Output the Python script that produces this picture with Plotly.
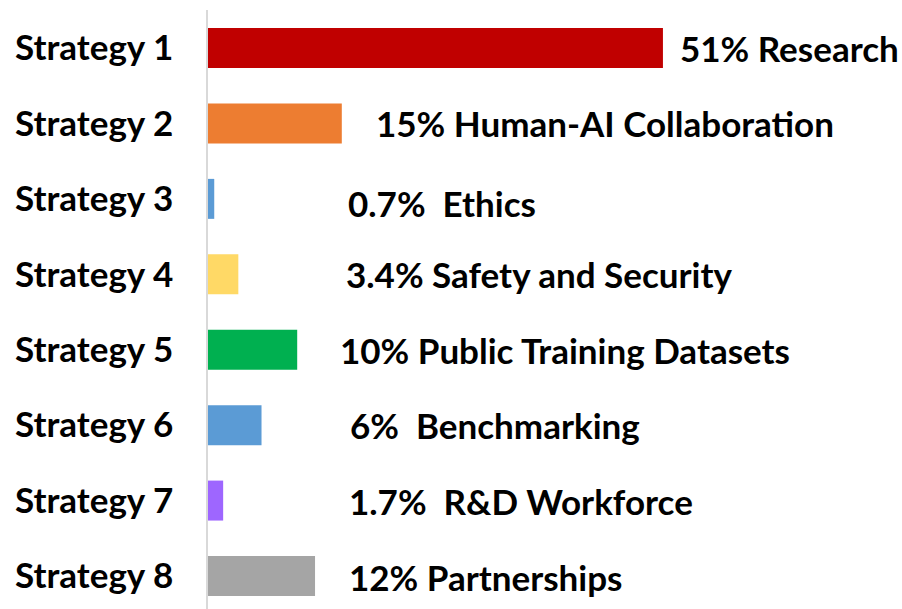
import plotly.graph_objects as go

categories = ["Strategy 1", "Strategy 2", "Strategy 3", "Strategy 4",
              "Strategy 5", "Strategy 6", "Strategy 7", "Strategy 8"]
values = [51, 15, 0.7, 3.4, 10, 6, 1.7, 12]
labels = ["51% Research", "15% Human-AI Collaboration", "0.7%  Ethics",
          "3.4% Safety and Security", "10% Public Training Datasets",
          "6%  Benchmarking", "1.7%  R&D Workforce", "12% Partnerships"]
colors = ["#C00000", "#ED7D31", "#5B9BD5", "#FFD966",
          "#00B050", "#5B9BD5", "#9E66FF", "#A5A5A5"]

# label x positions (data units) and small vertical nudges (px)
label_x = [52.7, 18.6, 15.5, 15.2, 14.6, 15.7, 15.6, 15.6]
label_dy = [0, 0, -4, 0, 0, 0, 0, -1]

FONT = "Lato"
FS = 35

idx = list(range(len(categories)))
fig = go.Figure(go.Bar(
    x=values, y=idx, orientation="h",
    marker=dict(color=colors, line=dict(width=0)),
    width=0.53, hoverinfo="skip",
))

for i, (lx, dy, t) in enumerate(zip(label_x, label_dy, labels)):
    fig.add_annotation(x=lx, y=i, text="<b>%s</b>" % t, showarrow=False,
                       xanchor="left", yanchor="middle", yshift=dy,
                       font=dict(family=FONT, size=FS, color="#000000"))

fig.update_layout(
    width=902, height=609,
    margin=dict(l=208, r=0, t=10, b=0),
    paper_bgcolor="white", plot_bgcolor="white",
    showlegend=False,
    xaxis=dict(range=[0, 77.8], visible=False, fixedrange=True),
    yaxis=dict(range=[7.4375, -0.504], tickvals=idx,
               ticktext=["<b>%s</b>" % c for c in categories],
               tickfont=dict(family=FONT, size=FS, color="#000000"),
               showgrid=False, zeroline=False, showline=True,
               linecolor="#D9D9D9", linewidth=1.5, ticks="",
               ticklabelstandoff=26),
)

fig.write_html("out.html")
